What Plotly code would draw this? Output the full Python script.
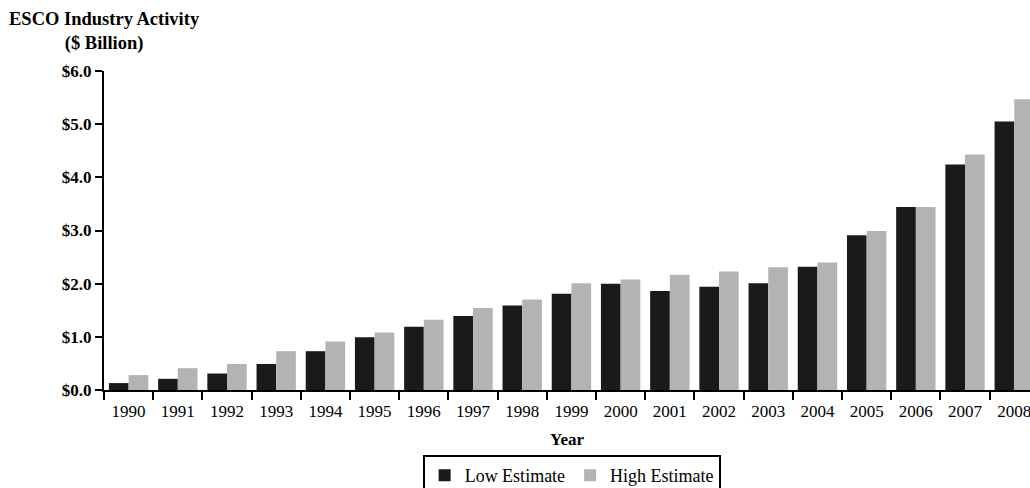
import plotly.graph_objects as go

years = [str(y) for y in range(1990, 2009)]
low_estimate = [0.13, 0.21, 0.31, 0.49, 0.73, 0.99, 1.19, 1.39, 1.59, 1.81, 2.00,
                1.86, 1.94, 2.01, 2.32, 2.91, 3.44, 4.24, 5.05]
high_estimate = [0.28, 0.41, 0.49, 0.73, 0.91, 1.08, 1.32, 1.54, 1.70, 2.01, 2.08,
                 2.17, 2.23, 2.31, 2.40, 2.99, 3.44, 4.43, 5.47]

FONT = "Liberation Serif"

fig = go.Figure()
fig.add_trace(go.Bar(x=years, y=low_estimate, name="Low Estimate",
                     marker=dict(color="#1a1a1a", line=dict(width=0))))
fig.add_trace(go.Bar(x=years, y=high_estimate, name="High Estimate",
                     marker=dict(color="#b3b3b3", line=dict(width=0))))

fig.update_layout(
    width=1030, height=488,
    margin=dict(l=104, r=0, t=71, b=98, autoexpand=False),
    paper_bgcolor="white", plot_bgcolor="white",
    barmode="group", bargap=0.2, bargroupgap=0,
    font=dict(family=FONT, color="black", size=16),
    showlegend=True,
    legend=dict(orientation="h", x=0.505, xanchor="center", y=-0.204, yanchor="top",
                bordercolor="black", borderwidth=2, bgcolor="white",
                font=dict(family=FONT, size=18, color="black"),
                itemwidth=30, tracegroupgap=0, traceorder="normal"),
    xaxis=dict(
        type="category", range=[-0.5, 18.32],
        showline=True, linecolor="black", linewidth=2,
        ticks="outside", tickson="boundaries", ticklen=8, tickwidth=2, tickcolor="black",
        ticklabelstandoff=5,
        tickfont=dict(family=FONT, size=17, color="black"),
        showgrid=False, zeroline=False,
        title=dict(text="Year", font=dict(family=FONT, size=17, color="black", weight="bold"), standoff=13),
    ),
    yaxis=dict(
        range=[0, 6], dtick=1, tickformat="$.1f",
        showline=True, linecolor="black", linewidth=2,
        ticks="outside", ticklen=7, tickwidth=2, tickcolor="black",
        tickfont=dict(family=FONT, size=17, color="black", weight="bold"),
        showgrid=False, zeroline=False,
    ),
    annotations=[dict(
        text="ESCO Industry Activity<br>($ Billion)", xref="paper", yref="paper",
        x=0, y=1.2, xanchor="center", yanchor="top", showarrow=False, align="center",
        font=dict(family=FONT, size=18.5, color="black", weight="bold"),
    )],
)

fig.write_html("out.html", config={"displayModeBar": False},
               post_script="document.body.style.margin='0px';")
